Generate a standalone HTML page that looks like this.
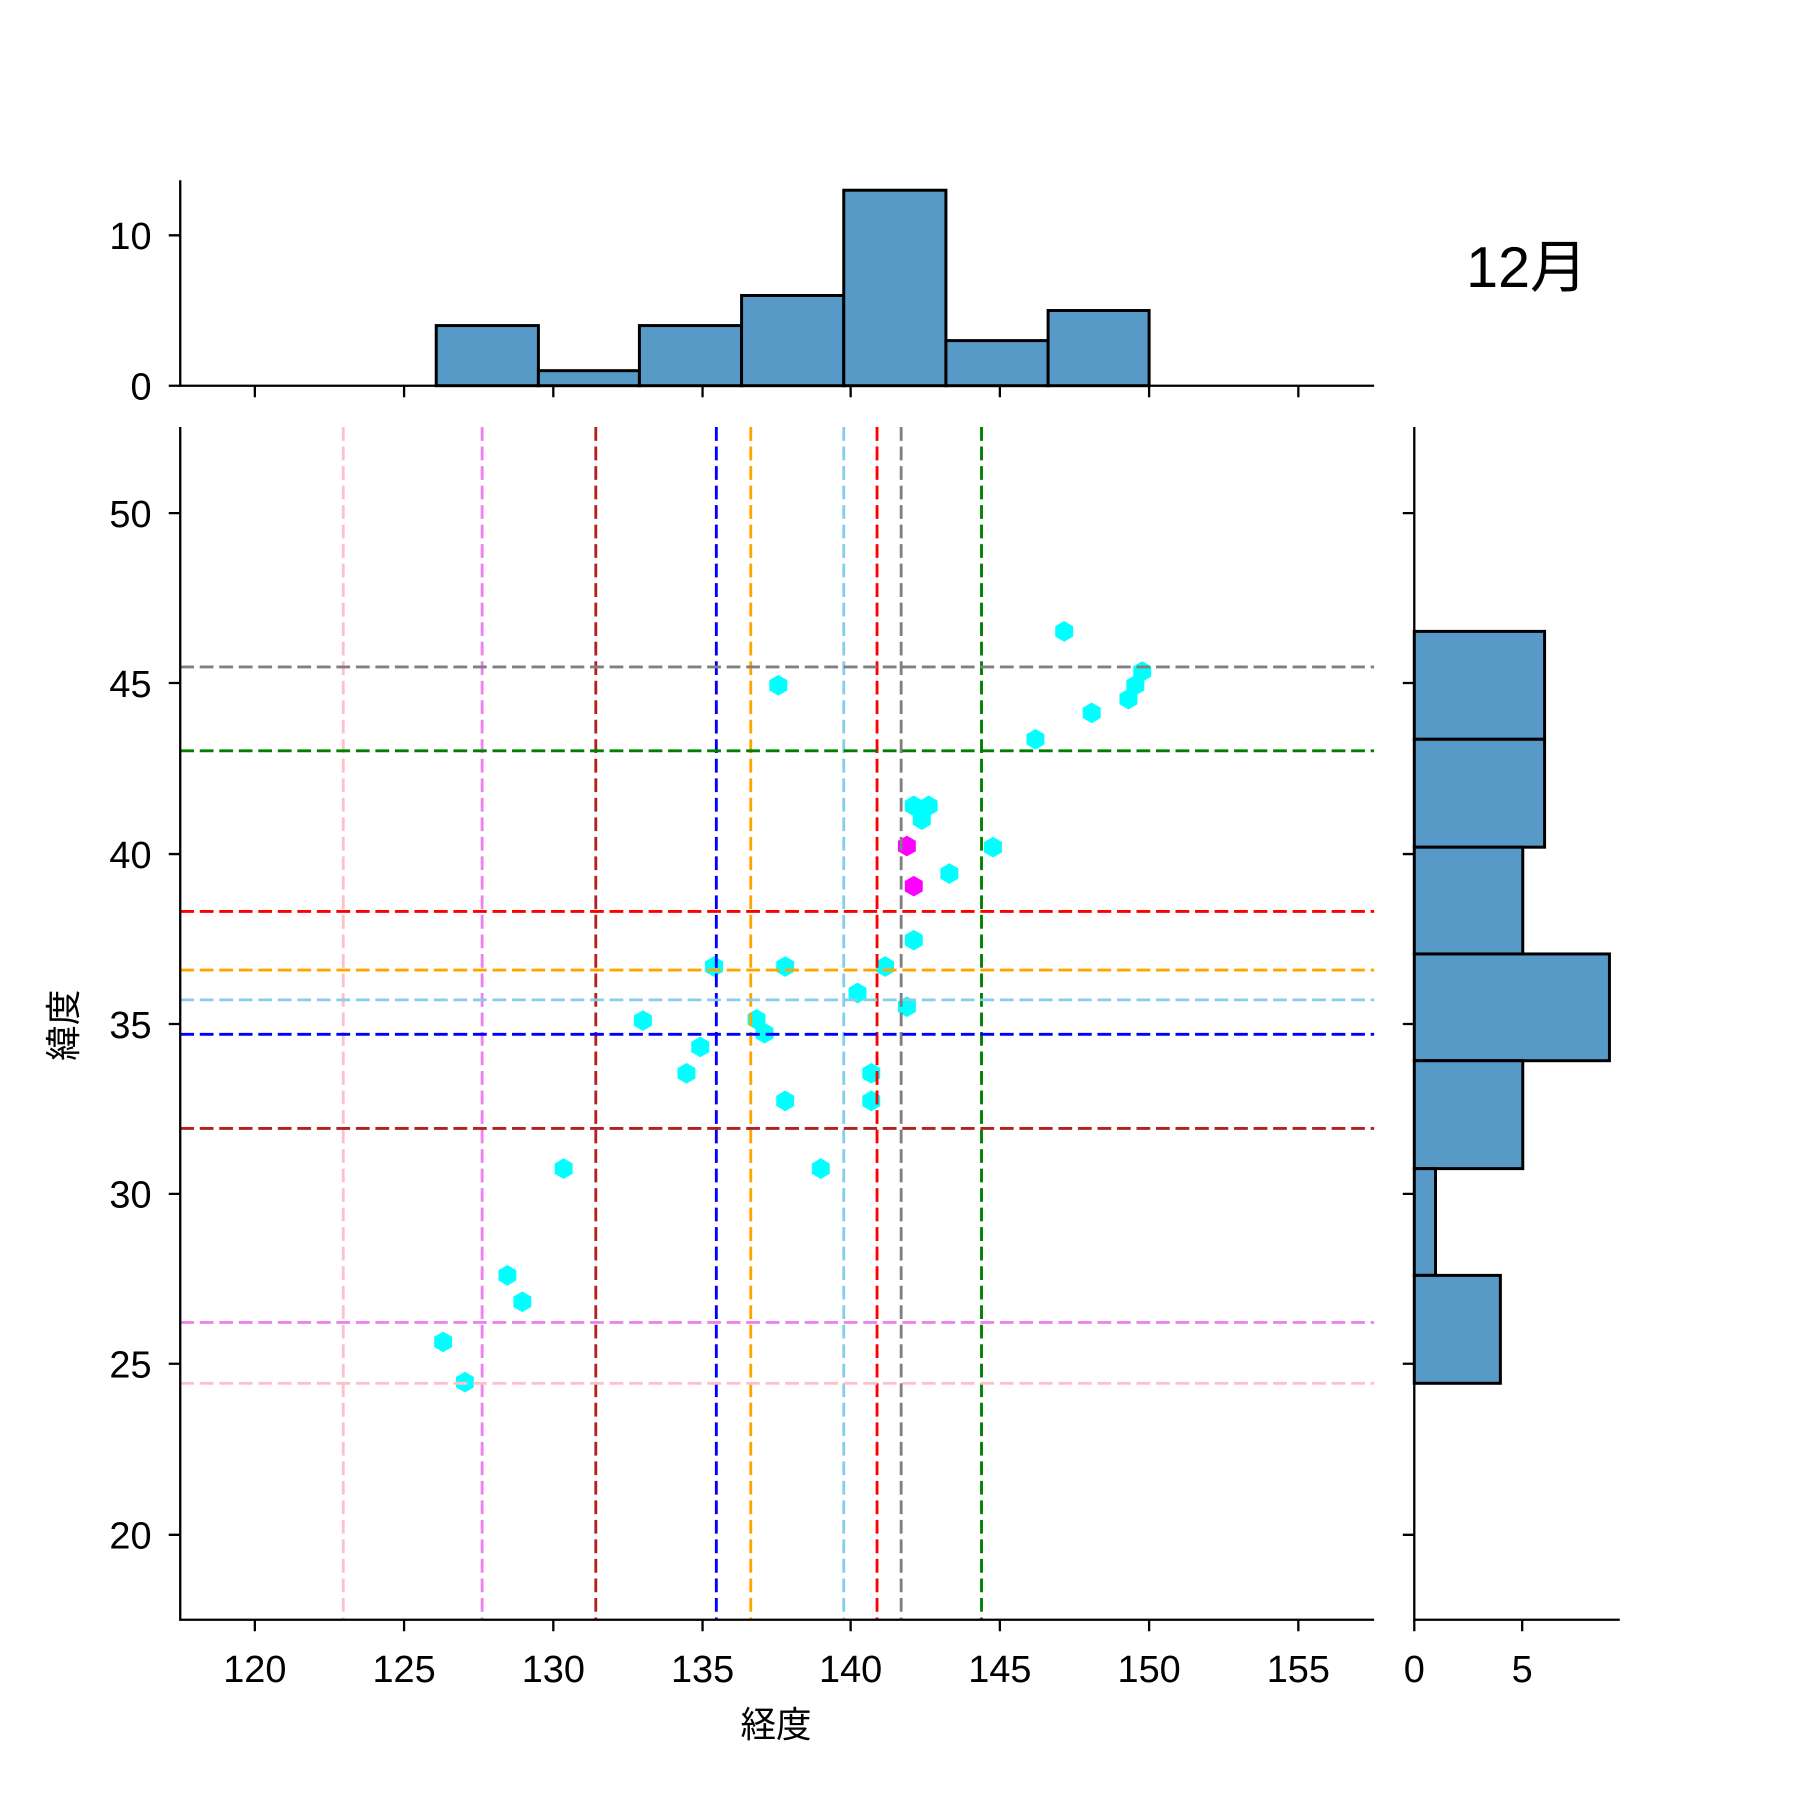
<!DOCTYPE html>
<html><head><meta charset="utf-8"><style>html,body{margin:0;padding:0;background:#fff}svg{display:block}</style></head><body>
<svg width="1800" height="1800" viewBox="0 0 1568 1568" xmlns="http://www.w3.org/2000/svg" xmlns:xlink="http://www.w3.org/1999/xlink" font-family="Liberation Sans, Noto Sans CJK JP, sans-serif">
<defs><polygon id="h" points="0,-9 7.8,-4.5 7.8,4.5 0,9 -7.8,4.5 -7.8,-4.5"/></defs>
<rect width="1568" height="1568" fill="#fff"/>
<!-- top hist -->
<g fill="#5799c7" stroke="#000" stroke-width="2.6">
<rect x="380" y="283.6" width="89" height="52.4"/>
<rect x="469" y="322.9" width="88" height="13.1"/>
<rect x="557" y="283.6" width="89" height="52.4"/>
<rect x="646" y="257.4" width="89" height="78.6"/>
<rect x="735" y="165.7" width="89" height="170.3"/>
<rect x="824" y="296.7" width="89" height="39.3"/>
<rect x="913" y="270.5" width="88" height="65.5"/>
</g>
<g stroke="#000" stroke-width="2" fill="none">
<path d="M157 157V336H1197"/>
<path d="M147 336H157M147 205H157"/>
<path d="M222 336v10M352 336v10M482 336v10M612 336v10M741 336v10M871 336v10M1001 336v10M1131 336v10"/>
</g>
<g font-size="33" text-anchor="end" fill="#000">
<text x="132" y="348">0</text><text x="132" y="217">10</text>
</g>
<text x="1330" y="250" font-size="50" text-anchor="middle">12月</text>
<!-- right hist -->
<g fill="#5799c7" stroke="#000" stroke-width="2.6">
<rect x="1232" y="550" width="113.5" height="94"/>
<rect x="1232" y="644" width="113.5" height="94"/>
<rect x="1232" y="738" width="94.5" height="93"/>
<rect x="1232" y="831" width="170" height="93"/>
<rect x="1232" y="924" width="94.5" height="94"/>
<rect x="1232" y="1018" width="18.5" height="93"/>
<rect x="1232" y="1111" width="75" height="94"/>
</g>
<g stroke="#000" stroke-width="2" fill="none">
<path d="M1232 372V1411H1411"/>
<path d="M1222 447h10M1222 595h10M1222 744h10M1222 892h10M1222 1040h10M1222 1188h10M1222 1337h10"/>
<path d="M1232 1411v10M1326 1411v10"/>
</g>
<g font-size="33" text-anchor="middle"><text x="1232" y="1465">0</text><text x="1326" y="1465">5</text></g>
<!-- points -->
<g fill="#00ffff">
<use xlink:href="#h" x="927" y="550"/><use xlink:href="#h" x="995" y="585"/><use xlink:href="#h" x="989" y="597"/><use xlink:href="#h" x="983" y="609"/><use xlink:href="#h" x="951" y="621"/><use xlink:href="#h" x="678" y="597"/><use xlink:href="#h" x="902" y="644"/><use xlink:href="#h" x="796" y="702"/><use xlink:href="#h" x="809" y="702"/><use xlink:href="#h" x="803" y="714"/><use xlink:href="#h" x="865" y="738"/><use xlink:href="#h" x="827" y="761"/><use xlink:href="#h" x="796" y="819"/><use xlink:href="#h" x="684" y="842"/><use xlink:href="#h" x="622" y="842"/><use xlink:href="#h" x="771" y="842"/><use xlink:href="#h" x="747" y="865"/><use xlink:href="#h" x="790" y="877"/><use xlink:href="#h" x="659" y="888"/><use xlink:href="#h" x="666" y="900"/><use xlink:href="#h" x="560" y="889"/><use xlink:href="#h" x="610" y="912"/><use xlink:href="#h" x="598" y="935"/><use xlink:href="#h" x="759" y="935"/><use xlink:href="#h" x="684" y="959"/><use xlink:href="#h" x="759" y="959"/><use xlink:href="#h" x="491" y="1018"/><use xlink:href="#h" x="715" y="1018"/><use xlink:href="#h" x="442" y="1111"/><use xlink:href="#h" x="455" y="1134"/><use xlink:href="#h" x="386" y="1169"/><use xlink:href="#h" x="405" y="1204"/>
</g>
<g fill="#ff00ff"><use xlink:href="#h" x="790" y="737"/><use xlink:href="#h" x="796" y="772"/></g>
<g stroke-width="2.5" stroke-dasharray="12 5" fill="none">
<path d="M299 372V1411" stroke="pink"/>
<path d="M420 372V1411" stroke="violet"/>
<path d="M519 372V1411" stroke="#b22222"/>
<path d="M624 372V1411" stroke="#0000ff"/>
<path d="M654 372V1411" stroke="orange"/>
<path d="M735 372V1411" stroke="skyblue"/>
<path d="M764 372V1411" stroke="red"/>
<path d="M785 372V1411" stroke="gray"/>
<path d="M855 372V1411" stroke="green"/>
<path d="M157 581H1197" stroke="gray"/>
<path d="M157 654H1197" stroke="green"/>
<path d="M157 794H1197" stroke="red"/>
<path d="M157 845H1197" stroke="orange"/>
<path d="M157 871H1197" stroke="skyblue"/>
<path d="M157 901H1197" stroke="#0000ff"/>
<path d="M157 983H1197" stroke="#b22222"/>
<path d="M157 1152H1197" stroke="violet"/>
<path d="M157 1205H1197" stroke="pink"/>
</g>
<g stroke="#000" stroke-width="2" fill="none">
<path d="M157 372V1411H1197"/>
<path d="M147 447h10M147 595h10M147 744h10M147 892h10M147 1040h10M147 1188h10M147 1337h10"/>
<path d="M222 1411v10M352 1411v10M482 1411v10M612 1411v10M741 1411v10M871 1411v10M1001 1411v10M1131 1411v10"/>
</g>
<g font-size="33" text-anchor="end">
<text x="132" y="459">50</text><text x="132" y="607">45</text><text x="132" y="756">40</text><text x="132" y="904">35</text><text x="132" y="1052">30</text><text x="132" y="1200">25</text><text x="132" y="1349">20</text>
</g>
<g font-size="33" text-anchor="middle">
<text x="222" y="1465">120</text><text x="352" y="1465">125</text><text x="482" y="1465">130</text><text x="612" y="1465">135</text><text x="741" y="1465">140</text><text x="871" y="1465">145</text><text x="1001" y="1465">150</text><text x="1131" y="1465">155</text>
</g>
<g font-size="31" text-anchor="middle">
<text x="676" y="1513">経度</text>
<text transform="translate(66 893) rotate(-90)">緯度</text>
</g>
</svg>
</body></html>
